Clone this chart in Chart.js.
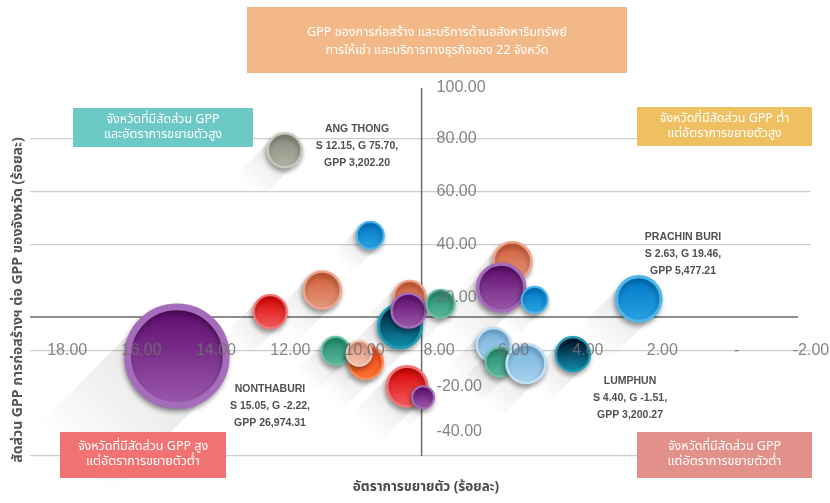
<!DOCTYPE html>
<html>
<head>
<meta charset="utf-8">
<script src="https://cdn.jsdelivr.net/npm/chart.js@4"></script>
<style>
  body { margin: 0; background: #fff; }
  #wrap { width: 830px; height: 503px; position: relative; }
</style>
</head>
<body>
<div id="wrap"><canvas id="gppChart"></canvas></div>
<script>
// ---- data ----
// S = share of construction GPP (%), G = growth (%), GPP = bubble size
const PROVINCES = ['NONTHABURI', 'ANG THONG', '', '', '', '', '', '', '', '', '', '', '', '', '', '', '', '', '', '', 'LUMPHUN', 'PRACHIN BURI'];
const SHARE  = [15.05, 12.15, 12.54, 11.14, 10.78, 9.85, 9.97, 10.15, 8.79, 9.05, 8.82, 7.96, 8.86, 8.43, 6.03, 6.33, 5.43, 6.53, 6.36, 5.66, 4.40, 2.63];
const GROWTH = [-2.22, 75.70, 14.6, 22.8, -0.2, 43.5, -4.4, -1.1, 20.2, 9.1, 15.0, 17.6, -13.7, -17.8, 33.7, 23.7, 19.1, 2.0, -4.4, -5.0, -1.51, 19.46];
const GPP    = [26974.31, 3202.20, 3025, 3800, 2180, 2025, 3210, 1740, 2840, 5140, 3210, 2180, 4440, 1340, 4010, 6140, 1880, 3210, 2340, 4220, 3200.27, 5477.21];

// colour per bubble: top of gradient, bottom of gradient, rim
const TOP_COL = ['#5c0a6c', '#84877a', '#d80000', '#cf5a35', '#1d8a6c', '#0076c6', '#ee4410', '#e5967c', '#cf5a35', '#001a36', '#5c0a6c', '#1d8a6c', '#d80000', '#5c0a6c', '#cf5a35', '#5c0a6c', '#0076c6', '#74b2dc', '#1d8a6c', '#74b2dc', '#000a22', '#0076c6'];
const BOT_COL = ['#9c5aac', '#b1b4a4', '#f35c5c', '#e69a80', '#5bb79c', '#2aa2e2', '#ff7434', '#f6c2ae', '#e69a80', '#0f8fac', '#9c5aac', '#5bb79c', '#f35c5c', '#9c5aac', '#e69a80', '#9c5aac', '#2aa2e2', '#a9d3ef', '#5bb79c', '#a9d3ef', '#0f8fac', '#2aa2e2'];
const RIM_COL = ['#a46cba', '#c8cabd', '#f27575', '#eda58e', '#6cc2a6', '#4db6ea', '#ff8a55', '#f8cdbc', '#eda58e', '#1c9bb6', '#a46cba', '#6cc2a6', '#f27575', '#a46cba', '#eda58e', '#a46cba', '#4db6ea', '#bfe0f5', '#6cc2a6', '#bfe0f5', '#1c9bb6', '#4db6ea'];

const X_TICKS = [18, 16, 14, 12, 10, 8, 6, 4, 2, 0, -2];
const Y_TICKS = [100, 80, 60, 40, 20, -20, -40];
const Y_GRID = [80, 60, 40, 0, -40];

// quadrant cross lines (averages)
const AVG_SHARE = 8.47;
const AVG_GROWTH = 12.6;

const R_SCALE = 0.30;
const THAI = '"Noto Sans Thai", "Tahoma", "DejaVu Sans", sans-serif';
const LATIN = '"Liberation Sans", Arial, sans-serif';

const bubbleR = (i) => R_SCALE * Math.sqrt(GPP[i]);

const points = SHARE.map((s, i) => ({ x: s, y: GROWTH[i], r: bubbleR(i) }));

function fmt(v) {
    return v.toLocaleString('en-US', { minimumFractionDigits: 2, maximumFractionDigits: 2 });
}

// labelled provinces: index and text anchor
const CALLOUTS = [
    { i: 1, x: 357, y: 129 },
    { i: 21, x: 683, y: 237 },
    { i: 0, x: 270, y: 389 },
    { i: 20, x: 630, y: 381 }
];

// --- plugin: axis lines, long shadows, labels, boxes ---
const decor = {
    id: 'decor',
    beforeDatasetsDraw(chart) {
        const { ctx, chartArea: a, scales: { x, y } } = chart;
        ctx.save();
        // dark cross lines
        ctx.strokeStyle = '#6a6a6a';
        ctx.lineWidth = 1.5;
        const vx = x.getPixelForValue(AVG_SHARE);
        const hy = y.getPixelForValue(AVG_GROWTH);
        ctx.beginPath();
        ctx.moveTo(vx, a.top + 2); ctx.lineTo(vx, a.bottom);
        ctx.moveTo(a.left, hy); ctx.lineTo(a.right - 13, hy);
        ctx.stroke();

        // long diagonal shadows
        const meta = chart.getDatasetMeta(0);
        meta.data.forEach((el) => {
            const r = el.options.radius;
            const L = r * 3;
            const n = Math.SQRT1_2;
            const g = ctx.createLinearGradient(el.x, el.y, el.x - L * n, el.y + L * n);
            g.addColorStop(0, 'rgba(0,0,0,0.11)');
            g.addColorStop(1, 'rgba(0,0,0,0)');
            ctx.fillStyle = g;
            ctx.beginPath();
            ctx.moveTo(el.x + r * n, el.y + r * n);
            ctx.lineTo(el.x - r * n, el.y - r * n);
            ctx.lineTo(el.x - r * n - L * n, el.y - r * n + L * n);
            ctx.lineTo(el.x + r * n - L * n, el.y + r * n + L * n);
            ctx.closePath();
            ctx.fill();
        });
        ctx.restore();
    },
    beforeDatasetDraw(chart) {
        const ctx = chart.ctx;
        ctx.save();
        ctx.shadowColor = 'rgba(0,0,0,0.35)';
        ctx.shadowBlur = 5;
        ctx.shadowOffsetX = -1;
        ctx.shadowOffsetY = 3;
    },
    afterDatasetDraw(chart) {
        chart.ctx.restore();
    },
    afterDatasetsDraw(chart) {
        // tick labels sit on top of the bubbles, as in the original
        const { ctx, scales: { x, y } } = chart;
        ctx.save();
        ctx.fillStyle = 'rgba(110,110,110,0.85)';
        ctx.font = '16px ' + LATIN;
        ctx.textAlign = 'center';
        ctx.textBaseline = 'middle';
        const zy = y.getPixelForValue(0);
        X_TICKS.forEach(v => {
            ctx.fillText(v === 0 ? '-' : v.toFixed(2), x.getPixelForValue(v), zy);
        });
        ctx.textAlign = 'left';
        const vx = x.getPixelForValue(AVG_SHARE);
        Y_TICKS.forEach(v => {
            let py = y.getPixelForValue(v);
            if (v === 100) py += 2;
            if (v < 0) py -= (v === -40 ? 24 : 17);
            ctx.fillText(v.toFixed(2), vx + 15, py);
        });
        ctx.restore();
    },
    afterDraw(chart) {
        const ctx = chart.ctx;
        ctx.save();
        // callouts
        ctx.fillStyle = '#505050';
        ctx.font = 'bold 10.5px ' + LATIN;
        ctx.textAlign = 'center';
        ctx.textBaseline = 'middle';
        CALLOUTS.forEach(c => {
            const i = c.i;
            ctx.fillText(PROVINCES[i], c.x, c.y);
            ctx.fillText('S ' + SHARE[i].toFixed(2) + ', G ' + GROWTH[i].toFixed(2) + ',', c.x, c.y + 17);
            ctx.fillText('GPP ' + fmt(GPP[i]), c.x, c.y + 34);
        });

        // coloured boxes
        const box = (x0, y0, w, h, col, lines, size, firstY, gap) => {
            ctx.fillStyle = col;
            ctx.fillRect(x0, y0, w, h);
            ctx.fillStyle = '#fff';
            ctx.font = size + 'px ' + THAI;
            lines.forEach((t, k) => ctx.fillText(t, x0 + w / 2, firstY + k * gap));
        };
        box(247, 7, 380, 66, '#f2b888', ['GPP ของการก่อสร้าง และบริการด้านอสังหาริมทรัพย์', 'การให้เช่า และบริการทางธุรกิจของ 22 จังหวัด'], 12.6, 33, 18);
        box(73, 108, 180, 39, '#6cc9c6', ['จังหวัดที่มีสัดส่วน GPP', 'และอัตราการขยายตัวสูง'], 12.5, 120, 15);
        box(637, 107, 175, 39, '#eec062', ['จังหวัดที่มีสัดส่วน GPP ต่ำ', 'แต่อัตราการขยายตัวสูง'], 12.5, 119, 15);
        box(60, 432, 166, 46, '#f07272', ['จังหวัดที่มีสัดส่วน GPP สูง', 'แต่อัตราการขยายตัวต่ำ'], 12.5, 447, 15);
        box(637, 432, 175, 46, '#e2918a', ['จังหวัดที่มีสัดส่วน GPP', 'แต่อัตราการขยายตัวต่ำ'], 12.5, 447, 15);

        // axis titles
        ctx.fillStyle = '#4a4a4a';
        ctx.font = 'bold 13.5px ' + THAI;
        ctx.fillText('อัตราการขยายตัว (ร้อยละ)', 426, 488);
        ctx.translate(19, 300);
        ctx.rotate(-Math.PI / 2);
        ctx.fillStyle = '#555';
        ctx.font = 'bold 14px ' + THAI;
        ctx.fillText('สัดส่วน GPP การก่อสร้างฯ ต่อ GPP ของจังหวัด (ร้อยละ)', 0, 0);
        ctx.restore();
    }
};

new Chart(document.getElementById('gppChart'), {
    type: 'bubble',
    data: {
        datasets: [{
            label: 'GPP',
            data: points,
            backgroundColor: (c) => {
                const i = c.dataIndex;
                if (i === undefined) return TOP_COL[0];
                const sy = c.chart.scales.y;
                const cy = sy ? sy.getPixelForValue(GROWTH[i]) : NaN;
                if (!isFinite(cy)) return TOP_COL[i];
                const r = bubbleR(i);
                const g = c.chart.ctx.createLinearGradient(0, cy - r, 0, cy + r);
                g.addColorStop(0, TOP_COL[i]);
                g.addColorStop(1, BOT_COL[i]);
                return g;
            },
            borderColor: (c) => RIM_COL[c.dataIndex] || RIM_COL[0],
            borderWidth: (c) => Math.max(2, bubbleR(c.dataIndex || 0) * 0.14)
        }]
    },
    options: {
        responsive: true,
        maintainAspectRatio: false,
        animation: false,
        events: [],
        layout: { autoPadding: false, padding: { left: 30, right: 19, top: 86, bottom: 39 } },
        plugins: {
            legend: { display: false },
            tooltip: { enabled: false }
        },
        scales: {
            x: {
                type: 'linear',
                reverse: true,
                min: -2, max: 19,
                ticks: { display: false },
                grid: { display: false },
                border: { display: false }
            },
            y: {
                type: 'linear',
                min: -40, max: 100,
                ticks: { display: false, stepSize: 20 },
                grid: {
                    drawTicks: false,
                    color: (c) => Y_GRID.includes(c.tick.value) ? '#cdcdcd' : 'rgba(0,0,0,0)',
                    lineWidth: 1.2
                },
                border: { display: false }
            }
        }
    },
    plugins: [decor]
});
</script>
</body>
</html>
